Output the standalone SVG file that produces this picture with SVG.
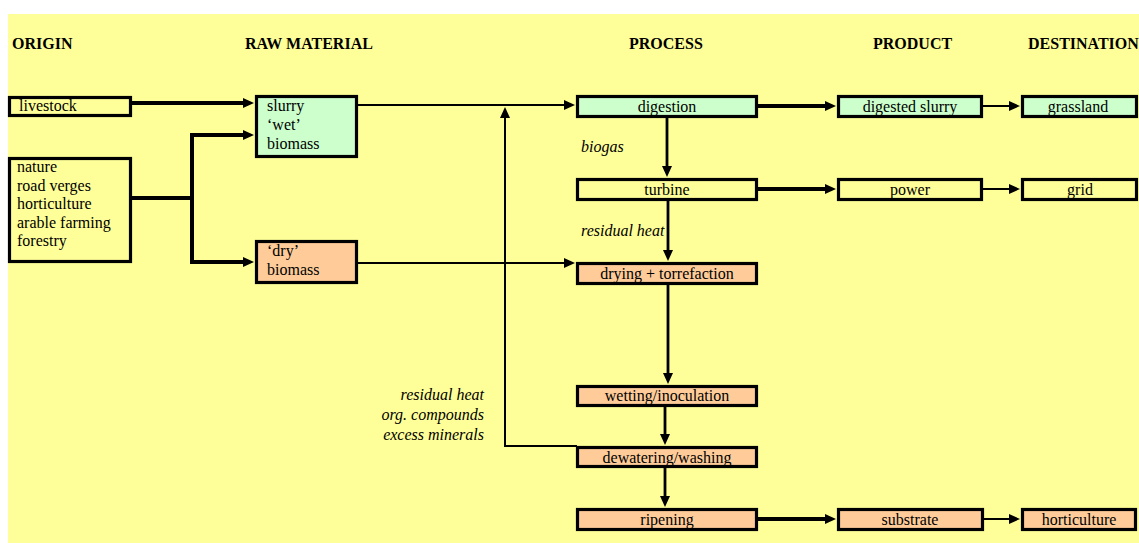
<svg xmlns="http://www.w3.org/2000/svg" width="1139" height="543" viewBox="0 0 1139 543">
<defs>
<marker id="ah" markerUnits="userSpaceOnUse" markerWidth="11" markerHeight="10" viewBox="0 0 11 10" refX="0" refY="5" orient="auto">
<path d="M0,0 L11,5 L0,10 z" fill="#000"/>
</marker>
<style>
.box{stroke:#000;stroke-width:3.2}
.g{fill:#CCFFCC}.o{fill:#FFCC99}.y{fill:#FFFF99}
text{font-family:"Liberation Serif","Times New Roman",serif;font-size:16px;fill:#000}
.h{font-weight:bold}
.i{font-style:italic}
.c{text-anchor:middle}
.e{text-anchor:end}
.thick{stroke:#000;stroke-width:4;fill:none}
.mid{stroke:#000;stroke-width:2.8;fill:none}
.thin{stroke:#000;stroke-width:2;fill:none}
.arr{marker-end:url(#ah)}
</style>
</defs>
<rect x="8" y="14" width="1131" height="529" fill="#FFFF99"/>
<g id="headers">
<text class="h" x="12" y="49">ORIGIN</text>
<text class="h" x="245" y="49">RAW MATERIAL</text>
<text class="h" x="629" y="49">PROCESS</text>
<text class="h" x="873" y="49">PRODUCT</text>
<text class="h" x="1028" y="49">DESTINATION</text>
</g>
<g id="connectors">
<path class="thick arr" d="M132,103 H243"/>
<path class="thick" d="M132,198 H192 M192,135 V262"/>
<path class="thick arr" d="M190,135 H243"/>
<path class="thick arr" d="M190,262 H243"/>
<path class="thin arr" d="M353,105 H564"/>
<path class="thin arr" d="M358,263 H564"/>
<path class="thin" d="M577,446 H505"/>
<path class="thin arr" d="M505,447 V118"/>
<path class="mid arr" d="M667,118 V166"/>
<path class="mid arr" d="M668,201 V250"/>
<path class="mid arr" d="M668,285 V373"/>
<path class="mid arr" d="M665,407 V434"/>
<path class="mid arr" d="M665,468 V496"/>
<path class="thick arr" d="M758,106 H825"/>
<path class="thin arr" d="M983,106 H1009"/>
<path class="thick arr" d="M758,189 H825"/>
<path class="thin arr" d="M983,189 H1009"/>
<path class="thick arr" d="M758,519 H825"/>
<path class="thin arr" d="M984,519 H1009"/>
</g>
<g id="labels">
<text class="i" x="581" y="152">biogas</text>
<text class="i" x="581" y="236">residual heat</text>
<text class="i e" x="484" y="400">residual heat</text>
<text class="i e" x="484" y="420">org. compounds</text>
<text class="i e" x="484" y="440">excess minerals</text>
</g>
<g id="livestock"><rect class="box y" x="9.5" y="97.5" width="121" height="18"/><text x="19" y="111">livestock</text></g>
<g id="nature"><rect class="box y" x="9.5" y="158.5" width="121" height="103"/>
<text x="17" y="172">nature</text><text x="17" y="190.5">road verges</text><text x="17" y="209">horticulture</text><text x="17" y="227.5">arable farming</text><text x="17" y="246">forestry</text></g>
<g id="slurry"><rect class="box g" x="256.5" y="96.5" width="100" height="60"/>
<text x="267" y="111">slurry</text><text x="267" y="130">‘wet’</text><text x="267" y="149">biomass</text></g>
<g id="dry"><rect class="box o" x="256.5" y="241.5" width="100" height="41"/>
<text x="267" y="256">‘dry’</text><text x="267" y="275">biomass</text></g>
<g id="digestion"><rect class="box g" x="577.5" y="96.5" width="179" height="20"/><text class="c" x="667" y="112">digestion</text></g>
<g id="turbine"><rect class="box y" x="577.5" y="179.5" width="179" height="20"/><text class="c" x="667" y="195">turbine</text></g>
<g id="drying"><rect class="box o" x="577.5" y="263.5" width="179" height="20"/><text class="c" x="667" y="279">drying + torrefaction</text></g>
<g id="wetting"><rect class="box o" x="577.5" y="386.5" width="179" height="19"/><text class="c" x="667" y="401">wetting/inoculation</text></g>
<g id="dewatering"><rect class="box o" x="577.5" y="447.5" width="179" height="19"/><text class="c" x="667" y="463">dewatering/washing</text></g>
<g id="ripening"><rect class="box o" x="577.5" y="509.5" width="179" height="20"/><text class="c" x="667" y="525">ripening</text></g>
<g id="digested"><rect class="box g" x="838.5" y="96.5" width="143" height="20"/><text class="c" x="910" y="112">digested slurry</text></g>
<g id="grassland"><rect class="box g" x="1022.5" y="96.5" width="114" height="20"/><text class="c" x="1078" y="112">grassland</text></g>
<g id="power"><rect class="box y" x="838.5" y="179.5" width="143" height="20"/><text class="c" x="910" y="195">power</text></g>
<g id="grid"><rect class="box y" x="1022.5" y="179.5" width="114" height="20"/><text class="c" x="1080" y="195">grid</text></g>
<g id="substrate"><rect class="box o" x="838.5" y="509.5" width="144" height="20"/><text class="c" x="910" y="525">substrate</text></g>
<g id="horticulture"><rect class="box o" x="1022.5" y="509.5" width="113" height="20"/><text class="c" x="1079" y="525">horticulture</text></g>
</svg>
